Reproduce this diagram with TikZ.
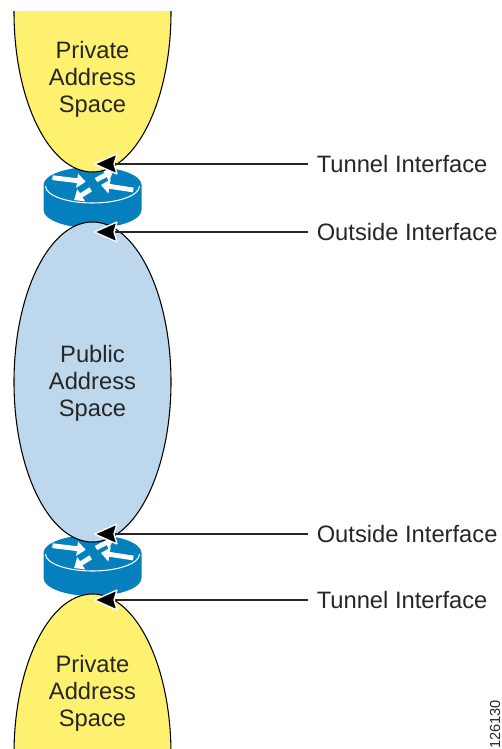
\documentclass[tikz,border=0pt]{standalone}
\usepackage{fontspec}
\setmainfont{Liberation Sans}
\usetikzlibrary{arrows.meta}
\definecolor{privfill}{RGB}{255,241,112}
\definecolor{pubfill}{RGB}{189,215,236}
\definecolor{routerblue}{RGB}{4,128,190}
\tikzset{
  x=0.75pt,y=-0.75pt,
  cloudshape/.style={draw=black,line width=0.8pt},
  cloudtext/.style={align=center,font=\fontsize{17.8}{20.25}\selectfont,text=black!85,inner sep=0pt},
  labeltext/.style={anchor=west,font=\fontsize{17.8}{20.25}\selectfont,text=black!85,inner sep=0pt},
  connector/.style={draw=black!85,line width=1pt},
  warrow/.style={draw=white,line width=3.6pt,-{Triangle[length=6.5pt,width=10.5pt]}},
  pics/router/.style={code={
    \fill[routerblue] (-49,0) -- (-49,25) arc[start angle=180,end angle=0,x radius=49,y radius=18] -- (49,0)
       arc[start angle=0,end angle=-180,x radius=49,y radius=18] -- cycle;
    \draw[white,line width=0.8pt] (-47,1) arc[start angle=180,end angle=0,x radius=47,y radius=17];
    \draw[warrow] (-40,-7.3) -- (-6.8,-3.3);
    \draw[warrow] (3.5,-5) -- (20.8,-14);
    \draw[warrow] (40.8,5) -- (8.5,0);
    \draw[warrow] (-1.8,4.3) -- (-18.5,15);
  }},
  pics/headtip/.style={code={
    \filldraw[fill=black,draw=white,line width=1pt,line join=miter,miter limit=2]
      (-1.5,0) -- (21,-10) -- (18,0) -- (21,10) -- cycle;
  }}
}
\begin{document}
\begin{tikzpicture}
\useasboundingbox (0,0) rectangle (501,749);
\clip (0,0) rectangle (501,749);
\pic at (92.5,185) {router};
\pic at (92.5,553) {router};
\begin{scope}
  \clip (0,11.5) rectangle (200,749);
  \draw[cloudshape,fill=privfill] (92.5,12) ellipse [x radius=78.5,y radius=160];
\end{scope}
\draw[cloudshape,fill=pubfill] (92.5,382) ellipse [x radius=78.5,y radius=160];
\draw[cloudshape,fill=privfill] (92.5,754) ellipse [x radius=78.5,y radius=160];
\node[cloudtext] (priv1) at (92.5,79) {Private\\Address\\Space};
\node[cloudtext] (pub) at (92.5,383) {Public\\Address\\Space};
\node[cloudtext] (priv2) at (92.5,693) {Private\\Address\\Space};
\node[labeltext] (t1) at (316.5,164) {Tunnel Interface};
\node[labeltext] (o1) at (316.5,232) {Outside Interface};
\node[labeltext] (o2) at (316.5,534) {Outside Interface};
\node[labeltext] (t2) at (316.5,600) {Tunnel Interface};
\coordinate (a1) at (96,164);
\coordinate (a2) at (96,232);
\coordinate (a3) at (96,534);
\coordinate (a4) at (96,600);
\draw[connector] (t1.west) ++(-9,0) -- (a1);
\draw[connector] (o1.west) ++(-9,0) -- (a2);
\draw[connector] (o2.west) ++(-9,0) -- (a3);
\draw[connector] (t2.west) ++(-9,0) -- (a4);
\pic at (a1) {headtip};
\pic at (a2) {headtip};
\pic at (a3) {headtip};
\pic at (a4) {headtip};
\node[rotate=90,anchor=east,inner sep=0pt,font=\fontsize{10.9}{13}\selectfont,text=black!85] (num) at (495,700) {126130};
\end{tikzpicture}
\end{document}
